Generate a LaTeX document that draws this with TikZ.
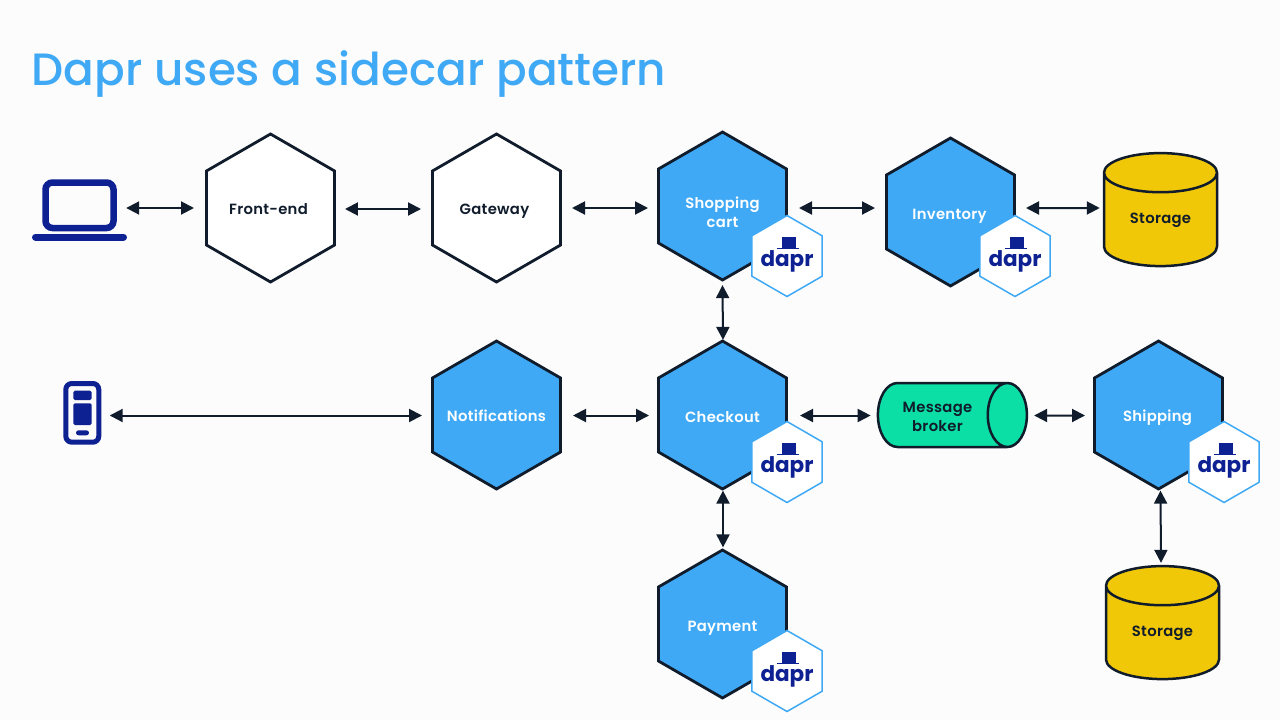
\documentclass[tikz,border=0pt]{standalone}
\usepackage{fontspec}
\usetikzlibrary{shapes.geometric,arrows.meta}
\setmainfont{Poppins}
\newfontfamily\titlefont{Poppins Medium}
\newfontfamily\labelfont{Poppins SemiBold}[LetterSpace=2]
\newfontfamily\logofont{Poppins}[BoldFont=* Bold]
\definecolor{ink}{HTML}{101C2C}
\definecolor{daprblue}{HTML}{3FA9F5}
\definecolor{navy}{HTML}{0D2192}
\definecolor{gold}{HTML}{F0C808}
\definecolor{mint}{HTML}{0BDFA5}
\definecolor{paper}{HTML}{FCFCFC}
\tikzset{
  x=1pt,y=-1pt,
  labeltext/.style={font=\labelfont\fontsize{14.8}{19}\selectfont,align=center,text=ink},
  hexbase/.style={regular polygon,regular polygon sides=6,regular polygon rotate=90,minimum size=148pt,inner sep=0pt,line width=2.8pt,draw=ink,labeltext},
  whitehex/.style={hexbase,fill=white},
  bluehex/.style={hexbase,fill=daprblue,text=white},
  badge/.style={regular polygon,regular polygon sides=6,regular polygon rotate=90,minimum size=81pt,inner sep=0pt,line width=1.5pt,draw=daprblue,fill=white,text=navy,font=\logofont\bfseries\fontsize{21.5}{22}\selectfont},
  storagecyl/.style={cylinder,shape border rotate=90,shape aspect=0.64,minimum width=113pt,minimum height=113pt,inner sep=0pt,line width=2.5pt,draw=ink,fill=gold,labeltext},
  brokercyl/.style={cylinder,shape aspect=1.03,minimum width=64pt,minimum height=149pt,inner sep=0pt,line width=2.5pt,draw=ink,fill=mint,labeltext},
  conn/.style={line width=2pt,draw=ink,{Triangle[length=13pt,width=13pt]}-{Triangle[length=13pt,width=13pt]}},
  device/.style={inner sep=0pt,minimum width=#1},
  icon/.style={draw=navy,line width=6.5pt,rounded corners=7pt},
}
\newcommand\hexlab[3][0pt]{\raisebox{#2}[0pt][0pt]{\makebox[0pt][c]{\kern#1\begin{tabular}[c]{@{}c@{}}#3\end{tabular}}}}
\newcommand\cyllab[3][0pt]{\raisebox{#2}[19pt][19pt]{\makebox[70pt][c]{\kern#1\begin{tabular}[c]{@{}c@{}}#3\end{tabular}}}}
\newcommand\hatbadge[2]{%
  \node[badge] (#1) at #2 {\raisebox{-10pt}[0pt][0pt]{\makebox[0pt][c]{dapr}}};
  \fill[navy] ([shift={(-5,-18.7)}]#1.center) rectangle ([shift={(8.7,-8.3)}]#1.center);
  \fill[navy] ([shift={(-9.7,-8.3)}]#1.center) rectangle ([shift={(12,-6.7)}]#1.center);
}
\begin{document}
\begin{tikzpicture}
\useasboundingbox (0,0) rectangle (1280,720);
\fill[paper] (0,0) rectangle (1280,720);

\node[anchor=base west,inner sep=0pt,text=daprblue,font=\titlefont\fontsize{45.3}{50}\selectfont] (title) at (31.5,85) {Dapr uses a sidecar pattern};

% laptop
\node[device=95pt,minimum height=61pt] (laptop) at (79.5,210) {};
\draw[icon] (45.5,182.5) rectangle (113.5,228);
\draw[navy,line width=7pt,line cap=round] (35.5,237) -- (123.5,237);
% phone
\node[device=38pt,minimum height=64pt] (phone) at (82.5,413) {};
\draw[draw=navy,line width=5pt,rounded corners=6pt] (65.8,383.5) rectangle (98.8,442.2);
\fill[navy,rounded corners=1.5pt] (73.3,390.7) rectangle (91.7,400);
\fill[navy,rounded corners=1.5pt] (73.3,403.3) rectangle (91.7,425);
\fill[navy,rounded corners=2.5pt] (76,430.3) rectangle (89,435.3);

% services
\node[whitehex] (frontend) at (270.5,208) {\hexlab[-4pt]{-6pt}{Front-end}};
\node[whitehex] (gateway) at (496.5,208) {\hexlab[-4pt]{-6pt}{Gateway}};
\node[bluehex] (cart) at (722.5,206) {\hexlab{-12pt}{Shopping\\cart}};
\node[bluehex] (inventory) at (950.5,212) {\hexlab[-2pt]{-7pt}{Inventory}};
\node[bluehex] (notifications) at (496.5,415) {\hexlab{-6pt}{Notifications}};
\node[bluehex] (checkout) at (722.5,415) {\hexlab{-7pt}{Checkout}};
\node[bluehex] (shipping) at (1158.5,415) {\hexlab[-2pt]{-6pt}{Shipping}};
\node[bluehex] (payment) at (722.5,624) {\hexlab{-7pt}{Payment}};

\node[storagecyl] (storagea) at (1160.5,220) {Storage};
\node[storagecyl] (storageb) at (1162.5,633) {Storage};
\node[brokercyl] (broker) at (942,415) {\cyllab[-9pt]{-7pt}{Message\\broker}};

\hatbadge{cartbadge}{(787,256)}
\hatbadge{inventorybadge}{(1015,256)}
\hatbadge{checkoutbadge}{(787,462)}
\hatbadge{shippingbadge}{(1224,462)}
\hatbadge{paymentbadge}{(787,671)}

% connectors
\draw[conn] ([shift={(-1,-2)}]laptop.east) -- ([shift={(-11,0)}]frontend.west);
\draw[conn] ([shift={(9,1)}]frontend.east) -- ([shift={(-10,1)}]gateway.west);
\draw[conn] ([shift={(10,0)}]gateway.east) -- ([shift={(-9,2)}]cart.west);
\draw[conn] ([shift={(11,2)}]cart.east) -- ([shift={(-10,-4)}]inventory.west);
\draw[conn] ([shift={(10,-4)}]inventory.east) -- ([shift={(-3,-12)}]storagea.west);
\draw[conn] ([shift={(0,3.5)}]cart.south) -- ([shift={(0.5,0.5)}]checkout.north);
\draw[conn] ([shift={(8,2.5)}]phone.east) -- ([shift={(-9,0.5)}]notifications.west);
\draw[conn] ([shift={(11,0.5)}]notifications.east) -- ([shift={(-8,0.5)}]checkout.west);
\draw[conn] ([shift={(12,0.5)}]checkout.east) -- ([shift={(-6,0.5)}]broker.west);
\draw[conn] ([shift={(6,0.5)}]broker.east) -- ([shift={(-8,0.5)}]shipping.west);
\draw[conn] ([shift={(0.5,0)}]checkout.south) -- ([shift={(0.5,-1)}]payment.north);
\draw[conn] ([shift={(2,0)}]shipping.south) -- ([shift={(-1.5,-2)}]storageb.north);
\end{tikzpicture}
\end{document}
